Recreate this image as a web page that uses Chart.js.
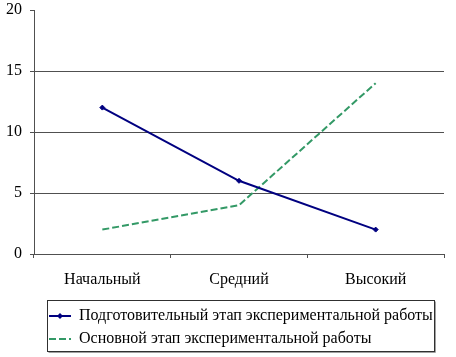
<!DOCTYPE html>
<html>
<head>
<meta charset="utf-8">
<script src="https://cdn.jsdelivr.net/npm/chart.js@4"></script>
<style>
  html, body { margin: 0; padding: 0; background: #fff; }
  #wrap { width: 456px; height: 357px; position: relative; }
</style>
</head>
<body>
<div id="wrap"><canvas id="c"></canvas></div>
<script>
const categories = ['Начальный', 'Средний', 'Высокий'];
const seriesNames = ['Подготовительный этап экспериментальной работы', 'Основной этап экспериментальной работы'];
const prepStage = [12, 6, 2];
const mainStage = [2, 4, 14];
const yTicks = [0, 5, 10, 15, 20];

const FONT = "'Liberation Serif', 'Times New Roman', serif";

const legendBorder = {
  id: 'legendBorder',
  afterLayout(chart) {
    if (chart.legend) { chart.legend.left += 8; chart.legend.right += 8; }
  },
  afterDraw(chart) {
    const lg = chart.legend;
    if (!lg || !lg.legendHitBoxes || !lg.legendHitBoxes.length) return;
    const boxes = lg.legendHitBoxes;
    let l = Infinity, r = -Infinity;
    boxes.forEach(b => { l = Math.min(l, b.left); r = Math.max(r, b.left + b.width); });
    const ctx = chart.ctx;
    const x0 = Math.round(l) - 1.5, x1 = Math.round(r) + 1.5;
    const y0 = Math.round(lg.top) - 0.5, y1 = Math.round(lg.bottom) - 5.5;
    ctx.save();
    ctx.strokeStyle = '#303030';
    ctx.lineWidth = 1;
    ctx.strokeRect(x0, y0, x1 - x0, y1 - y0);
    ctx.strokeStyle = '#a0a0a0';
    ctx.beginPath();
    ctx.moveTo(x0 + 1, y1 + 1); ctx.lineTo(x1 + 1, y1 + 1); ctx.lineTo(x1 + 1, y0 + 1);
    ctx.stroke();
    // diamond marker on first legend swatch
    const b = boxes[0];
    const cx = b.left + 11, cy = b.top + b.height / 2;
    ctx.fillStyle = '#000080';
    ctx.beginPath();
    ctx.moveTo(cx, cy - 3); ctx.lineTo(cx + 3, cy); ctx.lineTo(cx, cy + 3); ctx.lineTo(cx - 3, cy);
    ctx.closePath(); ctx.fill();
    ctx.restore();
  }
};

new Chart(document.getElementById('c'), {
  type: 'line',
  data: {
    labels: categories,
    datasets: [
      {
        label: seriesNames[0],
        data: prepStage,
        borderColor: '#000080',
        backgroundColor: '#000080',
        borderWidth: 2,
        pointStyle: 'rectRot',
        pointRadius: 2.5,
        pointBorderWidth: 1,
        tension: 0
      },
      {
        label: seriesNames[1],
        data: mainStage,
        borderColor: '#339966',
        backgroundColor: '#339966',
        borderWidth: 2,
        borderDash: [7, 3],
        pointRadius: 0,
        tension: 0
      }
    ]
  },
  options: {
    responsive: true,
    maintainAspectRatio: false,
    animation: false,
    layout: { padding: { left: 0, right: 12, top: 10, bottom: 0 } },
    plugins: {
      tooltip: { enabled: false },
      legend: {
        position: 'bottom',
        align: 'start',
        fullSize: false,
        labels: {
          usePointStyle: true,
          pointStyle: 'line',
          pointStyleWidth: 22,
          padding: 7,
          color: '#000',
          font: { family: FONT, size: 16 },
          generateLabels(chart) {
            return chart.data.datasets.map((ds, i) => ({
              text: ds.label,
              datasetIndex: i,
              fillStyle: ds.borderColor,
              strokeStyle: ds.borderColor,
              lineWidth: 2,
              lineDash: ds.borderDash || [],
              pointStyle: 'line',
              fontColor: '#000',
              hidden: false
            }));
          }
        }
      }
    },
    scales: {
      x: {
        offset: true,
        grid: {
          offset: true,
          drawOnChartArea: false,
          drawTicks: true,
          tickLength: 4,
          tickColor: '#505050'
        },
        border: { color: '#505050', width: 1 },
        ticks: { color: '#000', padding: 12, font: { family: FONT, size: 16 } },
        afterFit(scale) { scale.height = 47; scale.paddingLeft = 0; scale.paddingRight = 0; }
      },
      y: {
        min: 0,
        max: 20,
        afterBuildTicks(scale) { scale.ticks = yTicks.map(v => ({ value: v })); },
        grid: {
          color: ctx => (ctx.tick && ctx.tick.value === 20) ? 'rgba(0,0,0,0)' : '#505050',
          tickColor: '#505050',
          tickLength: 4,
          drawTicks: true
        },
        border: { color: '#505050', width: 1 },
        ticks: { color: '#000', padding: 8, font: { family: FONT, size: 16 } },
        afterFit(scale) { scale.width = 34; scale.paddingTop = 0; scale.paddingBottom = 0; }
      }
    }
  },
  plugins: [legendBorder]
});
</script>
</body>
</html>
